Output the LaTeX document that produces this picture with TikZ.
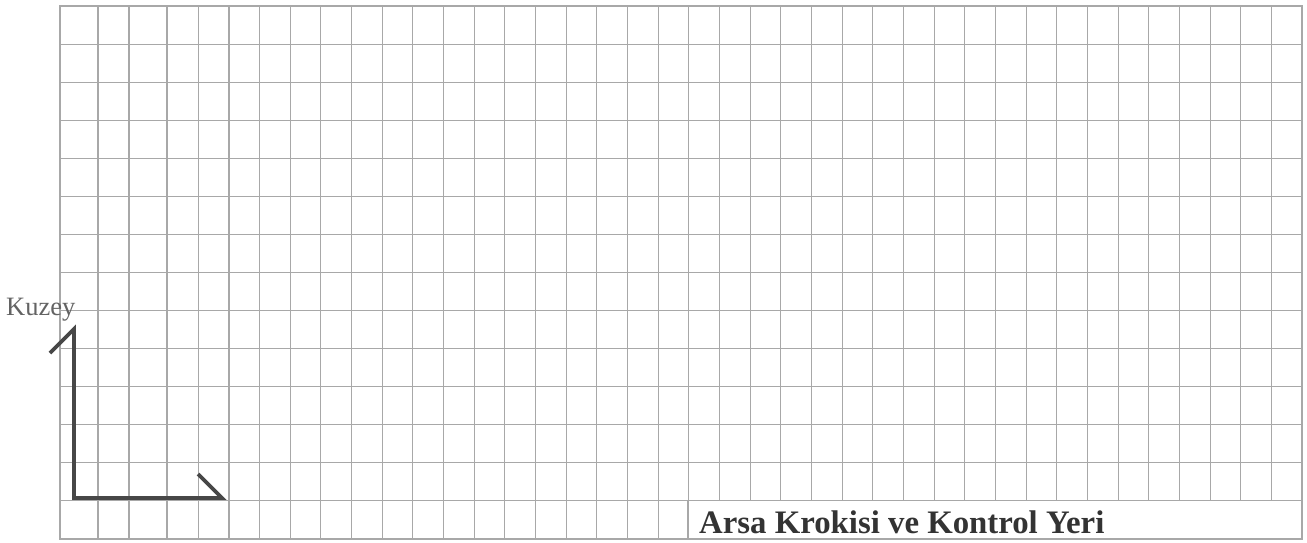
\documentclass[tikz,border=0pt]{standalone}
\usepackage{fontspec}
\setmainfont{Liberation Serif}
\usepackage{xcolor}
\usetikzlibrary{positioning}

\definecolor{gridgray}{HTML}{A8A8A8}
\definecolor{arrowgray}{HTML}{474747}
\definecolor{textgray}{HTML}{333333}

\begin{document}
\begin{tikzpicture}[x=1pt, y=-1pt,
  gridline/.style={draw=gridgray, line width=1.1pt},
  northarrow/.style={draw=arrowgray, line width=3.8pt, line join=miter, line cap=butt},
  label/.style={inner sep=0pt, text=textgray}
]

% Page size
\useasboundingbox (0,0) rectangle (1307,542);

% Outer frame
\draw[gridline] (60,6) rectangle (1302,539);

% Vertical grid lines (first columns are a bit wider)
\foreach \x in {98,129,167} {
  \draw[gridline] (\x,6) -- (\x,539);
}
\foreach \k in {0,...,35} {
  \pgfmathsetmacro{\xx}{198.3+30.66*\k}
  \ifdim\xx pt<680pt
    \draw[gridline] (\xx,6) -- (\xx,539);
  \else
    \draw[gridline] (\xx,6) -- (\xx,501);
  \fi
}

% Horizontal grid lines
\foreach \k in {1,...,13} {
  \pgfmathsetmacro{\yy}{6+38.07*\k}
  \draw[gridline] (60,\yy) -- (1302,\yy);
}

% Title box in the last row
\draw[gridline] (688,501) -- (688,539);
\node[label, anchor=base west, font=\fontsize{32.8}{38}\selectfont\bfseries] (title) at (699,533) {Arsa Krokisi ve Kontrol Yeri};

% North arrow
\draw[northarrow] (50,353) -- (74,329) -- (74,498) -- (222,498) -- (198,474);
\node[label, anchor=base west, text=arrowgray!85, font=\fontsize{26.5}{30}\selectfont] (north) at (6,315) {Kuzey};

\end{tikzpicture}
\end{document}
